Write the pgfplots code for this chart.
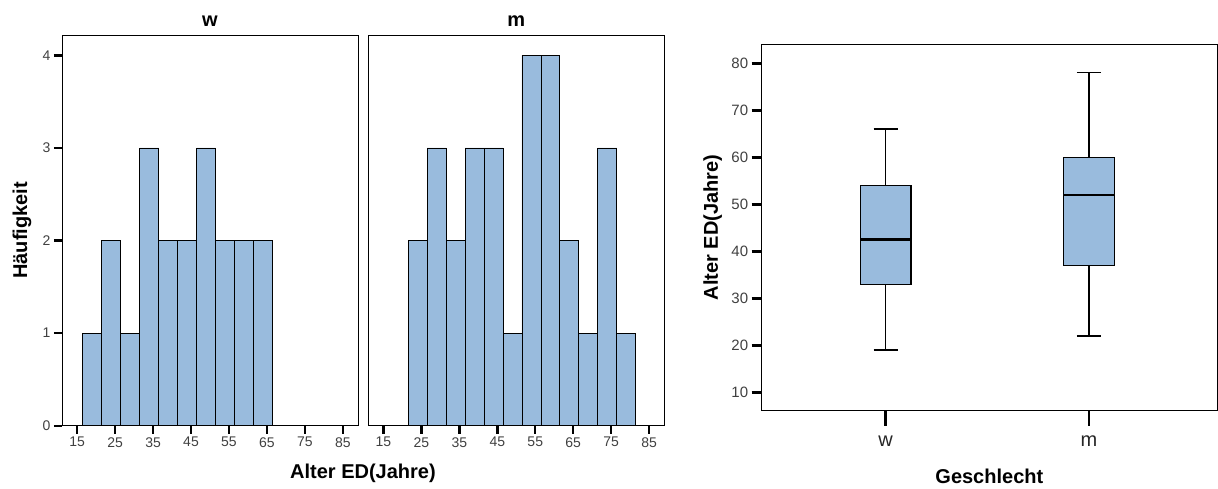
\documentclass[border=0pt]{standalone}
\usepackage{fontspec}
\setmainfont{Liberation Sans}
\usepackage{pgfplots}
\pgfplotsset{compat=1.18}
\usepgfplotslibrary{statistics}
\definecolor{barblue}{HTML}{99BBDD}
\definecolor{ticklab}{HTML}{404040}

\pgfplotsset{
  spss/.style={
    scale only axis,
    axis line style={black, line width=0.9pt},
    tick align=outside,
    major tick length=8pt,
    xtick pos=bottom, ytick pos=left,
    tick style={black, line width=2.4pt},
    tick label style={font=\fontsize{14}{16}\selectfont, text=ticklab},
    /pgf/number format/assume math mode=true,
    label style={font=\bfseries\fontsize{20}{24}\selectfont},
    title style={font=\bfseries\fontsize{20}{24}\selectfont,
      at={(axis description cs:0.5,1)}, anchor=center, yshift=8pt},
  },
  hist/.style={spss,
    width=296pt, height=390.7pt,
    xmin=11, xmax=89, ymin=0, ymax=4.22,
    xtick={15,25,...,85},
  },
}

\begin{document}
\begin{tikzpicture}
\path[use as bounding box] (0,0) rectangle (1218pt,488pt);

% histogram w
\begin{axis}[hist, at={(62pt,62.3pt)}, anchor=south west,
    ytick={0,1,2,3,4}, title={w}, ylabel={Häufigkeit},
    ylabel style={at={(axis description cs:0,0.5)}, anchor=center, yshift=40pt}]
\addplot[ybar, bar width=5, bar shift=0pt, fill=barblue, draw=black, line width=0.9pt]
  coordinates {(19,1) (24,2) (29,1) (34,3) (39,2) (44,2) (49,3) (54,2) (59,2) (64,2)};
\end{axis}

% histogram m
\begin{axis}[hist, at={(368.3pt,62.3pt)}, anchor=south west,
    ytick=\empty, title={m}]
\addplot[ybar, bar width=5, bar shift=0pt, fill=barblue, draw=black, line width=0.9pt]
  coordinates {(24,2) (29,3) (34,2) (39,3) (44,3) (49,1) (54,4) (59,4) (64,2) (69,1) (74,3) (79,1)};
\end{axis}

\node[font=\bfseries\fontsize{20}{24}\selectfont] at (363pt,15pt) {Alter ED(Jahre)};

% boxplot
\begin{axis}[spss, at={(761.7pt,77.3pt)}, anchor=south west,
    width=455.3pt, height=366.4pt,
    xmin=0.39, xmax=2.63, ymin=6.1, ymax=84,
    xtick=\empty,
    extra x ticks={1,2}, extra x tick labels={w,m},
    extra x tick style={major tick length=15pt,
      tick label style={font=\fontsize{20}{24}\selectfont, text=black!85, yshift=-7pt}},
    ytick={10,20,...,80},
    major tick length=10pt,
    tick style={black, line width=2.8pt},
    y tick label style={font=\fontsize{15}{17}\selectfont},
    ylabel={Alter ED(Jahre)}, xlabel={Geschlecht},
    ylabel style={at={(axis description cs:0,0.5)}, anchor=center, yshift=49pt},
    xlabel style={at={(axis description cs:0.5,0)}, anchor=center, yshift=-66pt},
    boxplot/draw direction=y,
    boxplot/every median/.style={line width=2.6pt}]
\addplot[boxplot prepared={lower whisker=19, lower quartile=33, median=42.5,
    upper quartile=54, upper whisker=66, draw position=1,
    box extend=0.25, whisker extend=0.12},
  fill=barblue, draw=black, line width=1.3pt] coordinates {};
\addplot[boxplot prepared={lower whisker=22, lower quartile=37, median=52,
    upper quartile=60, upper whisker=78, draw position=2,
    box extend=0.25, whisker extend=0.12},
  fill=barblue, draw=black, line width=1.3pt] coordinates {};
\end{axis}
\end{tikzpicture}
\end{document}
